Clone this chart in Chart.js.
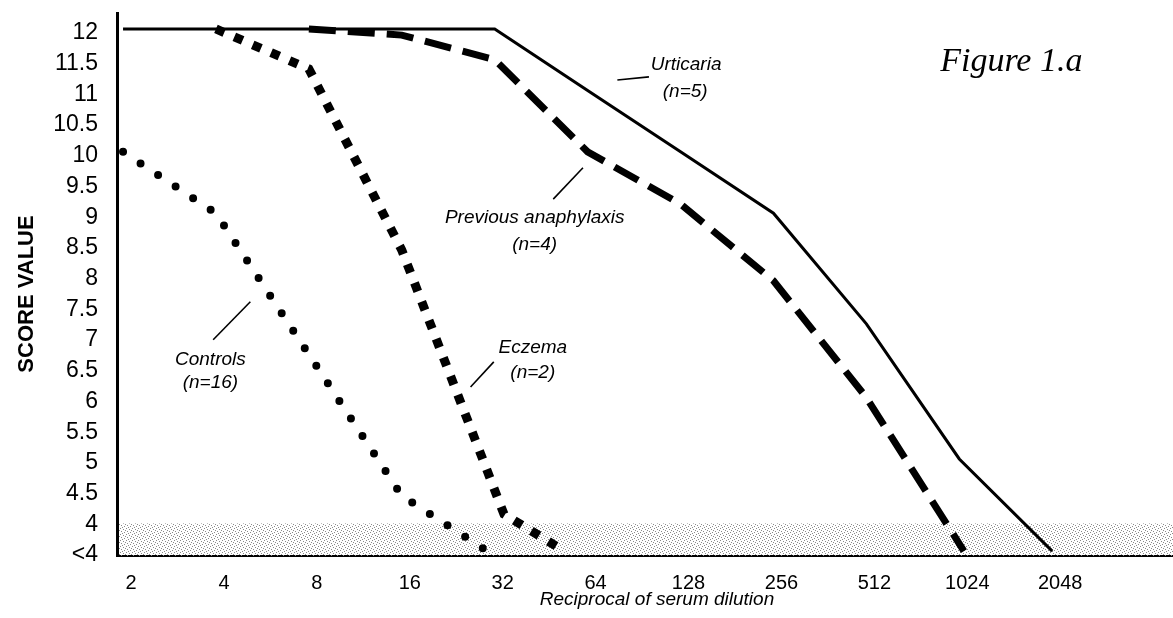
<!DOCTYPE html>
<html>
<head>
<meta charset="utf-8">
<title>Figure 1.a</title>
<script src="https://cdn.jsdelivr.net/npm/chart.js@4.4.1/dist/chart.umd.min.js"></script>
<style>
    html, body { margin: 0; padding: 0; background: #fff; }
    #wrap { width: 1173px; height: 618px; }
</style>
</head>
<body>
<div id="wrap"><canvas id="scoreChart" width="1173" height="618"></canvas></div>
<script>
// Reciprocal of serum dilution - one category per doubling
const dilutions = ['2', '4', '8', '16', '32', '64', '128', '256', '512', '1024', '2048'];

// Score axis ticks, 3.5 is printed as "<4"
const scoreTicks = [3.5, 4, 4.5, 5, 5.5, 6, 6.5, 7, 7.5, 8, 8.5, 9, 9.5, 10, 10.5, 11, 11.5, 12];

// Each series: [dilution index, score]
const urticaria   = [[0, 12], [4, 12], [5, 11], [6, 10], [7, 9], [8, 7.2], [9, 5], [10, 3.5]];
const anaphylaxis = [[2, 12], [3, 11.9], [4, 11.5], [5, 10], [6, 9.15], [7, 7.9], [8, 6], [9.05, 3.5]];
const eczema      = [[1, 12], [2, 11.35], [3, 8.4], [4.1, 4.1], [4.75, 3.5]];
const controls    = [[0, 10], [1, 9], [2, 6.7], [3, 4.4], [3.92, 3.5]];

const toPoints = arr => arr.map(([x, y]) => ({ x, y }));

// Text labels with short leader lines, placed in axis units
const notes = [
    { text: ['Urticaria', '(n=5)'], at: [[6.06, 11.42], [6.05, 10.98]], leader: [[5.32, 11.17], [5.66, 11.22]] },
    { text: ['Previous anaphylaxis', '(n=4)'], at: [[4.43, 8.92], [4.43, 8.48]], leader: [[4.63, 9.23], [4.95, 9.74]] },
    { text: ['Eczema', '(n=2)'], at: [[4.41, 6.81], [4.41, 6.4]], leader: [[3.74, 6.17], [3.99, 6.58]] },
    { text: ['Controls', '(n=16)'], at: [[0.94, 6.61], [0.94, 6.24]], leader: [[0.97, 6.94], [1.37, 7.56]] }
];

function makeStipple(ctx) {
    const c = document.createElement('canvas');
    c.width = 6;
    c.height = 6;
    const g = c.getContext('2d');
    g.fillStyle = '#8a8a8a';
    [[0, 0], [3, 1], [1, 3], [4, 4], [2, 5], [5, 2]].forEach(([px, py]) => g.fillRect(px, py, 1, 1));
    return ctx.createPattern(c, 'repeat');
}

// Shaded "<4" zone under the curves
const bandPlugin = {
    id: 'band',
    beforeDatasetsDraw(chart) {
        const { ctx, chartArea, scales: { y } } = chart;
        const top = y.getPixelForValue(3.95);
        ctx.save();
        ctx.fillStyle = makeStipple(ctx);
        ctx.fillRect(chartArea.left + 2, top, chartArea.right - chartArea.left, chartArea.bottom - top);
        ctx.restore();
    }
};

// Series names, leaders, figure tag and axis titles
const notesPlugin = {
    id: 'notes',
    afterDatasetsDraw(chart) {
        const { ctx, scales: { x, y } } = chart;
        ctx.save();
        ctx.fillStyle = '#000';
        ctx.strokeStyle = '#000';
        ctx.textAlign = 'center';
        ctx.textBaseline = 'middle';
        ctx.font = 'italic 19px "Liberation Sans", Arial, sans-serif';
        notes.forEach(n => {
            n.text.forEach((t, i) => {
                ctx.fillText(t, x.getPixelForValue(n.at[i][0]), y.getPixelForValue(n.at[i][1]));
            });
            ctx.lineWidth = 1.6;
            ctx.beginPath();
            ctx.moveTo(x.getPixelForValue(n.leader[0][0]), y.getPixelForValue(n.leader[0][1]));
            ctx.lineTo(x.getPixelForValue(n.leader[1][0]), y.getPixelForValue(n.leader[1][1]));
            ctx.stroke();
        });

        ctx.font = 'italic 34px "Liberation Serif", "Times New Roman", serif';
        ctx.fillText('Figure 1.a', x.getPixelForValue(9.56), y.getPixelForValue(11.46));

        ctx.font = 'italic 19px "Liberation Sans", Arial, sans-serif';
        ctx.fillText('Reciprocal of serum dilution', 657, 600);

        ctx.font = 'bold 22px "Liberation Sans", Arial, sans-serif';
        ctx.translate(27, 294);
        ctx.rotate(-Math.PI / 2);
        ctx.fillText('SCORE VALUE', 0, 0);
        ctx.restore();
    }
};

const lineStyle = {
    borderColor: '#000',
    pointRadius: 0,
    tension: 0,
    fill: false
};

// keep the plot box where the figure has it, not padded for tick labels
function noLabelPadding(scale) {
    scale.paddingTop = 0;
    scale.paddingBottom = 0;
    scale.paddingLeft = 0;
    scale.paddingRight = 0;
}

new Chart(document.getElementById('scoreChart'), {
    type: 'line',
    data: {
        datasets: [
            { ...lineStyle, label: 'Urticaria (n=5)', data: toPoints(urticaria), borderWidth: 3 },
            { ...lineStyle, label: 'Previous anaphylaxis (n=4)', data: toPoints(anaphylaxis), borderWidth: 7, borderDash: [27, 12] },
            { ...lineStyle, label: 'Eczema (n=2)', data: toPoints(eczema), borderWidth: 9, borderDash: [9, 11] },
            { ...lineStyle, label: 'Controls (n=16)', data: toPoints(controls), borderWidth: 8, borderDash: [0, 21], borderCapStyle: 'round' }
        ]
    },
    options: {
        responsive: false,
        devicePixelRatio: 1,
        animation: false,
        layout: { padding: { top: 13, right: 0, bottom: 0, left: 0 } },
        plugins: {
            legend: { display: false },
            tooltip: { enabled: false }
        },
        scales: {
            x: {
                type: 'linear',
                min: -0.065,
                max: 11.3,
                grid: { display: false, drawTicks: false },
                border: { display: true, color: '#000', width: 2 },
                afterBuildTicks: scale => { scale.ticks = dilutions.map((_, i) => ({ value: i })); },
                afterFit: scale => { scale.height = 62; noLabelPadding(scale); },
                ticks: {
                    autoSkip: false,
                    maxRotation: 0,
                    labelOffset: 8,
                    padding: 15,
                    color: '#000',
                    font: { family: '"Liberation Sans", Arial, sans-serif', size: 20 },
                    callback: (value, index) => dilutions[index]
                }
            },
            y: {
                type: 'linear',
                min: 3.42,
                max: 12.26,
                grid: { display: false, drawTicks: false },
                border: { display: true, color: '#000', width: 3 },
                afterBuildTicks: scale => { scale.ticks = scoreTicks.map(v => ({ value: v })); },
                afterFit: scale => { scale.width = 117; noLabelPadding(scale); },
                ticks: {
                    labelOffset: 4,
                    padding: 19,
                    color: '#000',
                    font: { family: '"Liberation Sans", Arial, sans-serif', size: 23 },
                    callback: value => value === 3.5 ? '<4' : String(value)
                }
            }
        }
    },
    plugins: [bandPlugin, notesPlugin]
});
</script>
</body>
</html>
